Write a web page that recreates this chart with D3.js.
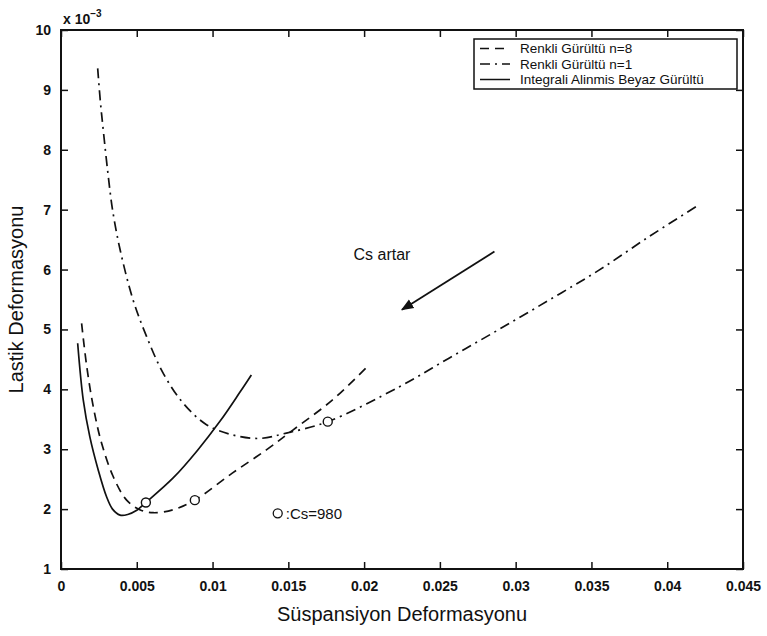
<!DOCTYPE html>
<html>
<head>
<meta charset="utf-8">
<script src="https://cdn.jsdelivr.net/npm/d3@7"></script>
<style>
  body { margin: 0; background: #fff; }
  text { font-family: "Liberation Sans", Arial, sans-serif; fill: #111; }
</style>
</head>
<body>
<div id="chart"></div>
<script>
// data (y values in units of 1e-3)
const xTicks = [0, 0.005, 0.01, 0.015, 0.02, 0.025, 0.03, 0.035, 0.04, 0.045];
const xTickLabels = ["0", "0.005", "0.01", "0.015", "0.02", "0.025", "0.03", "0.035", "0.04", "0.045"];
const yTicks = [1, 2, 3, 4, 5, 6, 7, 8, 9, 10];

const seriesNames = ["Renkli Gürültü n=8", "Renkli Gürültü n=1", "Integrali Alinmis Beyaz Gürültü"];

const n8X = [0.00136, 0.0017, 0.00213, 0.00268, 0.00345, 0.00433, 0.0052, 0.00608, 0.0074, 0.00883, 0.0113, 0.01355, 0.0153, 0.0179, 0.0201];
const n8Y = [5.10, 4.38, 3.71, 3.10, 2.54, 2.15, 1.99, 1.94, 1.99, 2.15, 2.60, 2.99, 3.32, 3.82, 4.35];

const n1X = [0.00242, 0.0026, 0.0028, 0.0031, 0.0034, 0.0039, 0.00476, 0.00565, 0.00674, 0.00806, 0.0096, 0.0113, 0.0131, 0.01487, 0.0176, 0.0223, 0.0256, 0.0289, 0.0322, 0.0355, 0.0388, 0.0419];
const n1Y = [9.36, 8.8, 8.3, 7.6, 7.0, 6.33, 5.49, 4.88, 4.27, 3.77, 3.41, 3.24, 3.18, 3.27, 3.46, 4.04, 4.52, 5.0, 5.49, 5.99, 6.55, 7.05];

const whiteX = [0.0011, 0.00147, 0.0019, 0.00246, 0.0030, 0.0034, 0.0039, 0.0044, 0.0050, 0.0056, 0.0074, 0.0090, 0.0105, 0.0118, 0.01256];
const whiteY = [4.77, 3.82, 3.21, 2.65, 2.21, 2.0, 1.90, 1.91, 1.98, 2.11, 2.52, 2.98, 3.47, 3.95, 4.24];

// Cs=980 markers
const markX = [0.0056, 0.00883, 0.0176];
const markY = [2.11, 2.15, 3.46];

const margin = {left: 61, right: 24, top: 30, bottom: 67};
const width = 767, height = 636;
const iw = width - margin.left - margin.right;
const ih = height - margin.top - margin.bottom;

const svg = d3.select("#chart").append("svg")
  .attr("width", width).attr("height", height);

const g = svg.append("g")
  .attr("transform", `translate(${margin.left},${margin.top})`);

const x = d3.scaleLinear().domain([0, 0.045]).range([0, iw]);
const y = d3.scaleLinear().domain([1, 10]).range([ih, 0]);

// axes (ticks inward, MATLAB style)
const tl = 7;
g.append("g").attr("transform", `translate(0,${ih})`)
  .call(d3.axisBottom(x).tickValues(xTicks).tickSize(-tl).tickPadding(12)
    .tickFormat((d, i) => xTickLabels[i]));
g.append("g")
  .call(d3.axisTop(x).tickValues(xTicks).tickSize(-tl).tickFormat(""));
g.append("g")
  .call(d3.axisLeft(y).tickValues(yTicks).tickSize(-tl).tickPadding(10));
g.append("g").attr("transform", `translate(${iw},0)`)
  .call(d3.axisRight(y).tickValues(yTicks).tickSize(-tl).tickFormat(""));

g.selectAll(".domain").remove();
g.selectAll(".tick line").attr("stroke", "#111").attr("stroke-width", 1.5);
g.selectAll(".tick text").attr("font-size", 14).attr("font-weight", "bold").attr("fill", "#111");

g.append("rect")
  .attr("width", iw).attr("height", ih)
  .attr("fill", "none").attr("stroke", "#111").attr("stroke-width", 2);

// exponent label
const expo = svg.append("text").attr("x", margin.left + 2).attr("y", 24)
  .attr("font-size", 14).attr("font-weight", "bold");
expo.append("tspan").text("x 10");
expo.append("tspan").attr("dy", -7).attr("font-size", 10).text("−3");

// axis titles
svg.append("text")
  .attr("x", margin.left + iw / 2).attr("y", 621)
  .attr("text-anchor", "middle").attr("font-size", 20)
  .text("Süspansiyon Deformasyonu");
svg.append("text")
  .attr("transform", `translate(23,${margin.top + ih / 2}) rotate(-90)`)
  .attr("text-anchor", "middle").attr("font-size", 20)
  .text("Lastik Deformasyonu");

// curves
const line = d3.line().x(d => x(d[0])).y(d => y(d[1])).curve(d3.curveCatmullRom);
const curves = [
  {xs: n8X, ys: n8Y, dash: "9,6"},
  {xs: n1X, ys: n1Y, dash: "10,5,2,5"},
  {xs: whiteX, ys: whiteY, dash: null}
];
curves.forEach(c => {
  g.append("path")
    .datum(c.xs.map((v, i) => [v, c.ys[i]]))
    .attr("d", line)
    .attr("fill", "none").attr("stroke", "#111").attr("stroke-width", 1.7)
    .attr("stroke-dasharray", c.dash);
});

g.selectAll("circle.mark")
  .data(markX.map((v, i) => [v, markY[i]]))
  .enter().append("circle")
  .attr("class", "mark")
  .attr("cx", d => x(d[0])).attr("cy", d => y(d[1])).attr("r", 4.5)
  .attr("fill", "#fff").attr("stroke", "#111").attr("stroke-width", 1.4);

// marker annotation
g.append("circle")
  .attr("cx", x(0.0143)).attr("cy", y(1.93)).attr("r", 4.5)
  .attr("fill", "none").attr("stroke", "#111").attr("stroke-width", 1.3);
g.append("text")
  .attr("x", x(0.0143) + 8).attr("y", y(1.93) + 5.5)
  .attr("font-size", 15).text(":Cs=980");

// arrow annotation
svg.append("defs").append("marker")
  .attr("id", "arr").attr("viewBox", "0 0 10 10").attr("refX", 9).attr("refY", 5)
  .attr("markerWidth", 7).attr("markerHeight", 7).attr("orient", "auto")
  .append("path").attr("d", "M0,1 L10,5 L0,9 Z").attr("fill", "#111");
g.append("line")
  .attr("x1", x(0.0286)).attr("y1", y(6.30))
  .attr("x2", x(0.0225)).attr("y2", y(5.33))
  .attr("stroke", "#111").attr("stroke-width", 1.8)
  .attr("marker-end", "url(#arr)");
g.append("text")
  .attr("x", x(0.0193)).attr("y", y(6.16))
  .attr("font-size", 16).text("Cs artar");

// legend
const lg = svg.append("g").attr("transform", "translate(474,39)");
lg.append("rect").attr("width", 263).attr("height", 50)
  .attr("fill", "#fff").attr("stroke", "#111").attr("stroke-width", 1.5);
seriesNames.forEach((name, i) => {
  const yy = 9.5 + i * 15.5;
  lg.append("line").attr("x1", 6).attr("x2", 36).attr("y1", yy).attr("y2", yy)
    .attr("stroke", "#111").attr("stroke-width", 1.5)
    .attr("stroke-dasharray", curves[i].dash);
  lg.append("text").attr("x", 46).attr("y", yy + 4.5)
    .attr("font-size", 13.5).text(name);
});
</script>
</body>
</html>
